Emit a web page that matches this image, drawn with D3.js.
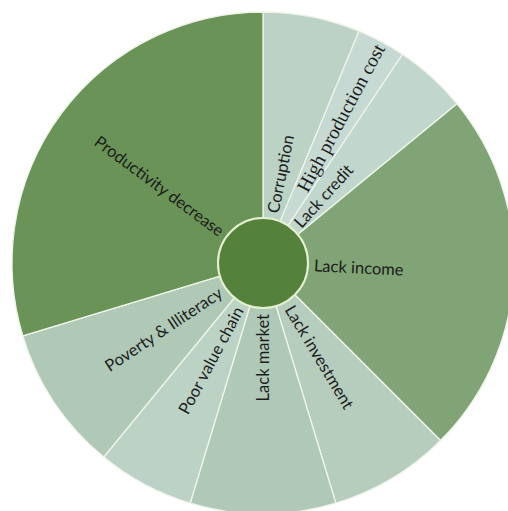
<!DOCTYPE html>
<html>
<head>
<meta charset="utf-8">
<script src="https://cdn.jsdelivr.net/npm/d3@7"></script>
<style>
  html, body { margin: 0; padding: 0; background: #ffffff; }
  svg { display: block; }
</style>
</head>
<body>
<svg id="chart" width="508" height="511"></svg>
<script>
// Reported constraints, in clockwise order from 12 o'clock
const categories = [
  "Corruption",
  "High production cost",
  "Lack credit",
  "Lack income",
  "Lack investment",
  "Lack market",
  "Poor value chain",
  "Poverty & Illiteracy",
  "Productivity decrease"
];
const counts = [4, 2, 3, 15, 5, 6, 4, 6, 19];

const data = categories.map((name, i) => ({ name, value: counts[i] }));

const width = 508, height = 511;
const cx = 263, cy = 263;
const innerR = 45, outerR = 251;

const svg = d3.select("#chart");
const g = svg.append("g").attr("transform", `translate(${cx},${cy})`);

// Shade each slice by its count: small counts pale, large counts deep green
const color = d3.scaleLinear()
  .domain([d3.min(counts), d3.max(counts)])
  .range(["#c6dad3", "#6a9358"])
  .interpolate(d3.interpolateRgb);

const pie = d3.pie().value(d => d.value).sort(null).startAngle(0).endAngle(2 * Math.PI);
const arcs = pie(data);

const arc = d3.arc().innerRadius(innerR).outerRadius(outerR);

g.selectAll("path.slice")
  .data(arcs)
  .join("path")
  .attr("class", "slice")
  .attr("d", arc)
  .attr("fill", d => color(d.data.value))
  .attr("stroke", "#eef5e8")
  .attr("stroke-width", 1.3);

// Centre disc
g.append("circle")
  .attr("r", innerR)
  .attr("fill", "#55823a")
  .attr("stroke", "#e4efd2")
  .attr("stroke-width", 2);

// Radial labels; one label is set in a serif face and sits against the rim
const serifLabels = new Set(["High production cost"]);
const labelPad = 6;

g.selectAll("text.label")
  .data(arcs)
  .join("text")
  .attr("class", "label")
  .each(function(d) {
    const deg = (d.startAngle + d.endAngle) / 2 * 180 / Math.PI;
    const right = deg < 180;
    const serif = serifLabels.has(d.data.name);
    const el = d3.select(this);
    let r = innerR + labelPad;
    let anchor = right ? "start" : "end";
    if (serif) {
      r = outerR - 4;
      anchor = right ? "end" : "start";
    }
    el.attr("transform", `rotate(${deg - 90}) translate(${r},0)` + (right ? "" : " rotate(180)"))
      .attr("text-anchor", anchor)
      .attr("dy", "0.35em")
      .attr("font-family", serif ? "'Liberation Serif', 'Times New Roman', serif" : "Lato, 'Open Sans', sans-serif")
      .attr("font-size", serif ? 19.5 : 16.5)
      .attr("font-weight", 400)
      .attr("fill", "#1c1c1c")
      .text(d.data.name);
  });
</script>
</body>
</html>
